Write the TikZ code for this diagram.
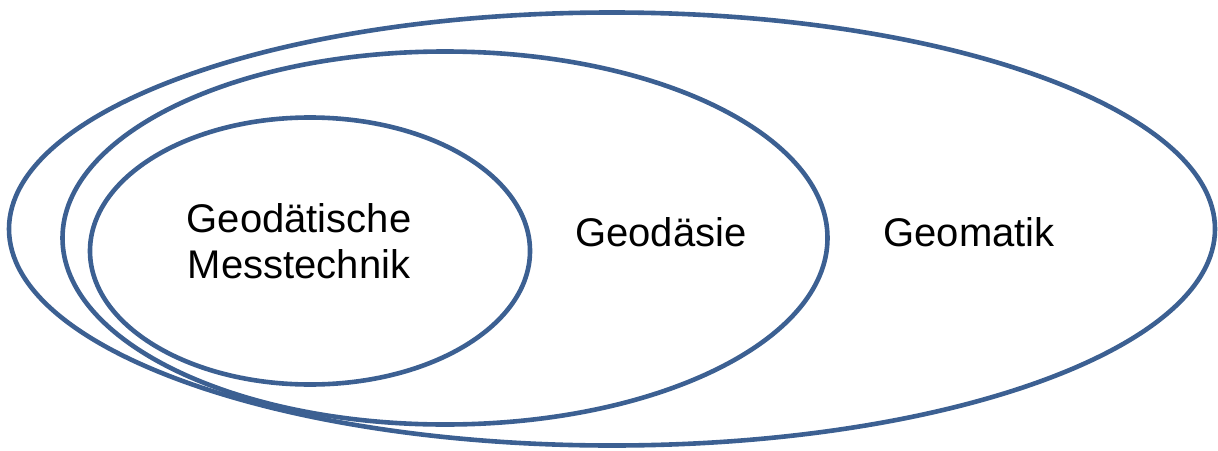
\documentclass[tikz,border=0pt]{standalone}
\usepackage{fontspec}
\setmainfont{Liberation Sans}
\usetikzlibrary{shapes.geometric}
\definecolor{ringblue}{RGB}{60,96,146}
\begin{document}
\begin{tikzpicture}[x=1pt,y=1pt,
  ring/.style={ellipse, draw=ringblue, line width=4.6pt, inner sep=0pt},
  label/.style={font=\fontsize{40pt}{46pt}\selectfont, text=black, align=center, inner sep=0pt}]
  \useasboundingbox (0,0) rectangle (1218,-450);
  % nested areas
  \node[ring, minimum width=1206pt, minimum height=433pt] (geomatik) at (612,-229) {};
  \node[ring, minimum width=765pt, minimum height=373pt] (geodaesie) at (445,-238) {};
  \node[ring, minimum width=440pt, minimum height=267pt] (messtechnik) at (310,-251) {};
  % names (base anchor sits on the last line)
  \node[label, anchor=base] (tmess) at (299,-278) {Geodätische\\Messtechnik};
  \node[label, anchor=base] (tgeod) at (661,-246) {Geodäsie};
  \node[label, anchor=base] (tgeom) at (969,-246) {Geomatik};
\end{tikzpicture}
\end{document}
